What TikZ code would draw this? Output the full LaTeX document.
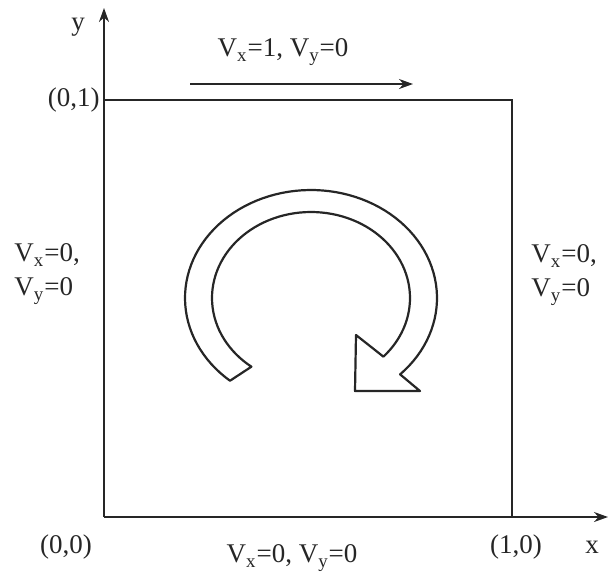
\documentclass[tikz,border=0pt]{standalone}
\usepackage{fontspec}
\setmainfont{Liberation Serif}
\usetikzlibrary{arrows.meta}
\begin{document}
\begin{tikzpicture}[x=0.5pt,y=-0.5pt,
  ink/.style={draw=black!85,line width=1pt},
  lbl/.style={font=\fontsize{13.5}{16}\selectfont,text=black!85,inner sep=0pt},
  axisarrow/.style={ink,-{Stealth[length=7pt,width=5pt]}},
  flowshape/.style={draw=black!85,line width=1.1pt,fill=white,line join=round}]
\useasboundingbox (0,0) rectangle (616,580);
% corners
\coordinate (O) at (104,517);
\coordinate (X1) at (512,517);
\coordinate (Y1) at (104,100);
\coordinate (B) at (512,100);
\coordinate (xend) at (608,517);
\coordinate (yend) at (104,8);
\coordinate (vs) at (190,84);
\coordinate (ve) at (413,84);
% square and axes
\draw[ink] (Y1) -- (B) -- (X1);
\draw[axisarrow] (O) -- (xend);
\draw[axisarrow] (O) -- (yend);
\draw[axisarrow] (vs) -- (ve);
% labels
\node[lbl] (ylab) at (78,27) {y};
\node[lbl,anchor=east] (p01) at (100,100) {(0,1)};
\node[lbl] (top) at (283,52) {V\textsubscript{x}=1, V\textsubscript{y}=0};
\node[lbl,anchor=west] (l1) at (14,255) {V\textsubscript{x}=0,};
\node[lbl,anchor=west] (l2) at (14,291) {V\textsubscript{y}=0};
\node[lbl,anchor=west] (r1) at (531,256) {V\textsubscript{x}=0,};
\node[lbl,anchor=west] (r2) at (531,292) {V\textsubscript{y}=0};
\node[lbl] (p00) at (66,547) {(0,0)};
\node[lbl] (bot) at (292,558) {V\textsubscript{x}=0, V\textsubscript{y}=0};
\node[lbl] (p10) at (516,547) {(1,0)};
\node[lbl] (xlab) at (592,547) {x};
% circular arrow
\draw[flowshape]
  plot[domain=130:405,samples=90] ({311+126*cos(\x)},{298+108*sin(\x)})
  -- (420,391) -- (355,391) -- (356,335)
  -- plot[domain=403:127,samples=90] ({311+99*cos(\x)},{298+86*sin(\x)})
  -- cycle;
\end{tikzpicture}
\end{document}
